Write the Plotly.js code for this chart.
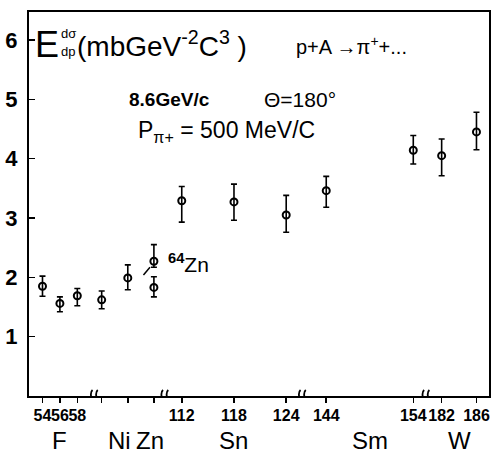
<!DOCTYPE html>
<html><head><meta charset="utf-8">
<script src="https://cdn.plot.ly/plotly-3.0.1.min.js"></script>
<style>html,body{margin:0;padding:0;background:#fff}</style>
</head><body><div id="chart" style="width:492px;height:453px"></div>
<script>
// ---- data ----
const massNumber   = [54, 56, 58, 58, 61, 64, 64, 112, 118, 124, 144, 154, 182, 186];
const segmentOf    = [0, 0, 0, 1, 1, 1, 1, 2, 2, 2, 3, 3, 4, 4];
const crossSection = [1.85, 1.56, 1.69, 1.62, 1.99, 2.27, 1.83, 3.29, 3.27, 3.05, 3.46, 4.14, 4.05, 4.45];
const errorPlus    = [0.17, 0.11, 0.12, 0.15, 0.22, 0.28, 0.18, 0.24, 0.30, 0.33, 0.24, 0.25, 0.28, 0.33];
const errorMinus   = [0.17, 0.14, 0.17, 0.15, 0.20, 0.10, 0.16, 0.36, 0.31, 0.29, 0.28, 0.23, 0.34, 0.30];
const tickMass     = [54, 56, 58, 58, 61, 64, 112, 118, 124, 144, 154, 182, 186];
const tickSegment  = [0, 0, 0, 1, 1, 1, 2, 2, 2, 3, 3, 4, 4];
const tickLabels   = ['54', '56', '58', '', '', '', '112', '118', '124', '144', '154', '182', '186'];
const elementNames = ['F', 'Ni', 'Zn', 'Sn', 'Sm', 'W'];
const elementMass  = [56, 60, 63.5, 118, 149, 184];
const elementSeg   = [0, 1, 1, 2, 3, 4];
const yTicks       = [1, 2, 3, 4, 5, 6];

// ---- broken-axis layout ----
const segmentShift = [0, 2.8, -42, -57.4, -82.14];
const breakAt = [60.0, 68.1, 83.9, 98.1];
const pos = (a, s) => a + segmentShift[s];

const FONT = 'Liberation Sans, Arial, sans-serif';
const PL = 29, PR = 489, PT = 12, PB = 396;
const px = x => (x - PL) / (PR - PL);
const py = y => (PB - y) / (PB - PT);

const xs = massNumber.map((a, i) => pos(a, segmentOf[i]));

const trace = {
  type: 'scatter', mode: 'markers',
  x: xs, y: crossSection,
  marker: {symbol: 'circle-open', size: 7, color: '#000', line: {width: 2, color: '#000'}},
  error_y: {type: 'data', symmetric: false, array: errorPlus, arrayminus: errorMinus,
            color: '#000', thickness: 1.6, width: 3},
  showlegend: false, hoverinfo: 'skip'
};

const shapes = [];
breakAt.forEach(u => {
  [-0.3, 0.3].forEach(d => {
    const c = u + d;
    shapes.push({type: 'path', xref: 'x', yref: 'y',
      path: `M ${c-0.25},-0.09 C ${c+0.2},-0.06 ${c-0.45},0.04 ${c+0.05},0.1`,
      line: {color: '#000', width: 1.8}});
  });
});
// leader line to the 64Zn point
const zx = pos(64, 1);
shapes.push({type: 'line', xref: 'x', yref: 'y', x0: zx - 1.2, y0: 2.04, x1: zx - 0.45, y1: 2.17,
  line: {color: '#000', width: 1.5}});

const ann = (text, x, y, size, opts = {}) => Object.assign({
  text, x: px(x), y: py(y), xref: 'paper', yref: 'paper', showarrow: false,
  xanchor: 'left', yanchor: 'middle', font: {family: FONT, size, color: '#000'}
}, opts);

const annotations = [
  ann('E', 33, 44, 36),
  ann('dσ', 59, 34, 13),
  ann('dp', 59, 51, 13),
  ann('(mbGeV<sup>-2</sup>C<sup>3</sup> )', 75, 44, 28),
  ann('p+A →π<sup>+</sup>+...', 294, 45, 20),
  ann('<b>8.6GeV/c</b>', 127, 100, 19),
  ann('Θ=180°', 262, 100, 21),
  ann('P<sub>π+</sub> = 500 MeV/C', 136, 131, 23),
  ann('<b><sup>64</sup></b>Zn', 166, 263, 21)
];
elementNames.forEach((n, i) => {
  annotations.push({text: n, x: pos(elementMass[i], elementSeg[i]), y: py(440), xref: 'x', yref: 'paper',
    showarrow: false, xanchor: 'center', yanchor: 'middle', font: {family: FONT, size: 24, color: '#000'}});
});

const layout = {
  width: 492, height: 453,
  margin: {l: PL, r: 492 - PR, t: PT, b: 453 - PB},
  paper_bgcolor: '#fff', plot_bgcolor: '#fff',
  xaxis: {range: [52.45, 105.3], showgrid: false, zeroline: false,
    showline: true, linewidth: 2, linecolor: '#000', mirror: true,
    ticks: 'outside', ticklen: 5, tickwidth: 1.5, tickcolor: '#000',
    tickmode: 'array', tickvals: tickMass.map((a, i) => pos(a, tickSegment[i])), ticktext: tickLabels,
    tickfont: {family: FONT, size: 16, color: '#000', weight: 'bold'}, tickangle: 0, ticklabelstandoff: -1},
  yaxis: {range: [0, 6.47], showgrid: false, zeroline: false,
    showline: true, linewidth: 2, linecolor: '#000', mirror: true,
    ticks: 'inside', ticklen: 6, tickwidth: 1.5, tickcolor: '#000',
    tickmode: 'array', tickvals: yTicks, ticktext: yTicks.map(String),
    tickfont: {family: FONT, size: 22, color: '#000', weight: 'bold'}, ticklabelstandoff: 5},
  shapes, annotations
};

Plotly.newPlot('chart', [trace], layout, {displayModeBar: false, staticPlot: true});
</script></body></html>
